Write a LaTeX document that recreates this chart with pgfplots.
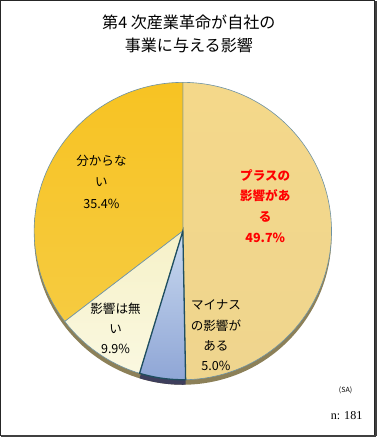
\documentclass[border=0pt]{standalone}
\usepackage{pgfplots}
\pgfplotsset{compat=1.18}
\usepackage{fontspec}
\setmainfont{Noto Sans CJK JP}
\newfontfamily\serifn{Liberation Serif}
\definecolor{plusTop}{HTML}{F4D88A}
\definecolor{plusMid}{HTML}{F2E8D0}
\definecolor{plusBot}{HTML}{EFD58E}
\definecolor{unkTop}{HTML}{F7C323}
\definecolor{unkMid}{HTML}{FAEAC0}
\definecolor{unkBot}{HTML}{F6CB40}
\definecolor{noneTop}{HTML}{F6F1C8}
\definecolor{noneBot}{HTML}{FAF8E0}
\definecolor{minTop}{HTML}{C9D9EF}
\definecolor{minMid}{HTML}{A9BDE2}
\definecolor{minBot}{HTML}{8FA6D6}
\definecolor{edge}{HTML}{6E92A2}
\definecolor{side}{HTML}{8C8058}
\definecolor{sideblue}{HTML}{3E3E5C}
\definecolor{dark}{HTML}{1F4E5F}
% shares (percent), clockwise from 12 o'clock
\def\vPlus{49.7}\def\vMinus{5.0}\def\vNone{9.9}\def\vUnk{35.4}
\pgfmathsetmacro{\aA}{90}
\pgfmathsetmacro{\aB}{\aA-3.6*\vPlus}
\pgfmathsetmacro{\aC}{\aB-3.6*\vMinus}
\pgfmathsetmacro{\aD}{\aC-3.6*\vNone}
\pgfmathsetmacro{\aE}{\aD-3.6*\vUnk}
\def\cx{182}\def\cy{207}\def\rr{148}
\begin{document}
\begin{tikzpicture}
\begin{axis}[scale only axis, width=376pt, height=437pt,
  xmin=0, xmax=376, ymin=0, ymax=437, axis lines=none, clip=false]
% frame
\draw[black!85, line width=1pt] (axis cs:0.5,3.5) rectangle (axis cs:373,436.5);
\draw[black!75, line width=2pt] (axis cs:374,3) -- (axis cs:374,436);
\draw[black!75, line width=2pt] (axis cs:1,3) -- (axis cs:374,3);
% 3D side
\addplot[draw=none, fill=side, domain=\aE:\aA, samples=150] ({\cx+\rr*cos(x)},{\cy-5+\rr*sin(x)}) -- (axis cs:\cx,\cy-5) -- cycle;
\addplot[draw=none, fill=sideblue, domain=\aC:\aB, samples=30] ({\cx+\rr*cos(x)},{\cy-5+\rr*sin(x)}) -- (axis cs:\cx,\cy-5) -- cycle;
% slices
\addplot[draw=edge, line width=0.6pt, top color=plusTop, middle color=plusMid, bottom color=plusBot, domain=\aB:\aA, samples=120] ({\cx+\rr*cos(x)},{\cy+\rr*sin(x)}) -- (axis cs:\cx,\cy) -- cycle;
\addplot[draw=edge, line width=0.6pt, top color=unkTop, middle color=unkMid, bottom color=unkBot, domain=\aE:\aD, samples=100] ({\cx+\rr*cos(x)},{\cy+\rr*sin(x)}) -- (axis cs:\cx,\cy) -- cycle;
\addplot[draw=edge, line width=0.6pt, top color=noneTop, bottom color=noneBot, domain=\aD:\aC, samples=40] ({\cx+\rr*cos(x)},{\cy+\rr*sin(x)}) -- (axis cs:\cx,\cy) -- cycle;
\addplot[draw=dark, line width=1.3pt, top color=minTop, middle color=minMid, bottom color=minBot, domain=\aC:\aB, samples=30] ({\cx+\rr*cos(x)},{\cy+\rr*sin(x)}) -- (axis cs:\cx,\cy) -- cycle;
% title
\node[font=\fontsize{16}{23}\selectfont, align=center] at (axis cs:188,403.5) {第4 次産業革命が自社の\\事業に与える影響};
% labels
\node[font=\fontsize{12.5}{20.5}\selectfont\bfseries, text=red, align=center] at (axis cs:264,232) {プラスの\\影響があ\\る\\49.7\%};
\node[font=\fontsize{12.5}{21}\selectfont, align=center] at (axis cs:101,256) {分からな\\い\\35.4\%};
\node[font=\fontsize{12.5}{20}\selectfont, align=center] at (axis cs:115,110) {影響は無\\い\\9.9\%};
\node[font=\fontsize{12.5}{20.3}\selectfont, align=center] at (axis cs:215,103) {マイナス\\の影響が\\ある\\5.0\%};
\node[font=\fontsize{7}{8}\selectfont] at (axis cs:344,48) {(SA)};
\node[font=\serifn\fontsize{12}{12}\selectfont] at (axis cs:345,23) {n: 181};
\end{axis}
\end{tikzpicture}
\end{document}
